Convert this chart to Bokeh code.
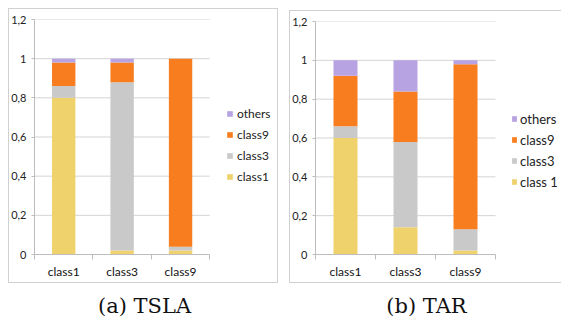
from bokeh.plotting import figure
from bokeh.models import (Range1d, FixedTicker, CustomJSTickFormatter, Legend,
                          LegendItem, ColumnDataSource)
from bokeh.core.properties import value
from bokeh.layouts import row, column
from bokeh.embed import file_html
from bokeh.resources import INLINE

# ---------------- data ----------------
categories = ["class1", "class3", "class9"]
stack_keys = ["class1", "class3", "class9", "others"]

tsla_class1 = [0.80, 0.02, 0.02]
tsla_class3 = [0.06, 0.86, 0.02]
tsla_class9 = [0.12, 0.10, 0.96]
tsla_others = [0.02, 0.02, 0.00]

tar_class1 = [0.60, 0.14, 0.02]
tar_class3 = [0.06, 0.44, 0.11]
tar_class9 = [0.26, 0.26, 0.85]
tar_others = [0.08, 0.16, 0.02]

legend_labels_a = ["class1", "class3", "class9", "others"]
legend_labels_b = ["class 1", "class3", "class9", "others"]

y_ticks = [0, 0.2, 0.4, 0.6, 0.8, 1.0, 1.2]
captions = ["(a) TSLA", "(b) TAR"]

colors = ["#EFD26B", "#C9C9C9", "#F77D1F", "#B7A2E2"]
FONT = "Lato"


def make_panel(vals, labels, width, height, borders, plot_w, legend_loc, legend_fs,
               glyph_w, standoff, shadow):
    n = len(categories)
    xs = [i + 1 for i in range(n)]
    frame_w = width - borders[1] - borders[3]
    x_end = 0.5 + n * frame_w / plot_w
    data = dict(x=xs)
    for k, v in zip(stack_keys, vals):
        data[k] = v
    src = ColumnDataSource(data)
    p = figure(width=width, height=height, output_backend="svg", toolbar_location=None,
               title_location=None,
               x_range=Range1d(0.5, x_end), y_range=Range1d(0, 1.2),
               min_border_top=borders[0], min_border_right=borders[1],
               min_border_bottom=borders[2], min_border_left=borders[3])
    p.outline_line_color = None
    p.background_fill_color = "white"
    p.border_fill_alpha = 0
    p.grid.grid_line_color = None

    # horizontal grid lines limited to the category area
    gy = y_ticks[1:]
    p.segment(x0=[0.5] * len(gy), x1=[n + 0.5] * len(gy), y0=gy, y1=gy,
              line_color="#D4D4D4", line_width=1, level="underlay")

    rs = p.vbar_stack(stack_keys, x="x", width=0.4, source=src, color=colors, line_color=None)

    yax = p.yaxis[0]
    yax.ticker = FixedTicker(ticks=y_ticks)
    yax.formatter = CustomJSTickFormatter(
        code="return (Math.round(tick*10)/10).toString().replace('.', ',');")
    yax.axis_line_color = "#BDBDBD"
    yax.major_tick_line_color = "#BDBDBD"
    yax.major_tick_out = 3
    yax.major_tick_in = 0
    yax.minor_tick_line_color = None
    yax.minor_tick_out = 0
    yax.major_label_standoff = 5
    yax.major_label_text_font = FONT
    yax.major_label_text_font_size = "11px"
    yax.major_label_text_color = "#222222"

    xax = p.xaxis[0]
    xax.bounds = (0.5, n + 0.5)
    xax.ticker = FixedTicker(ticks=xs, minor_ticks=[x - 0.5 for x in xs] + [xs[-1] + 0.5])
    xax.formatter = CustomJSTickFormatter(args=dict(cats=categories),
                                          code="return cats[Math.round(tick)-1];")
    xax.axis_line_color = "#BDBDBD"
    xax.major_tick_line_color = None
    xax.major_tick_out = 0
    xax.major_tick_in = 0
    xax.minor_tick_line_color = "#BDBDBD"
    xax.minor_tick_out = 5
    xax.minor_tick_in = 0
    xax.major_label_standoff = 4
    xax.major_label_text_font = FONT
    xax.major_label_text_font_size = "12px"
    xax.major_label_text_color = "#111111"

    items = [LegendItem(label=lab, renderers=[r]) for lab, r in zip(labels, rs)]
    items.reverse()
    leg = Legend(items=items, location=legend_loc, orientation="vertical",
                 glyph_width=glyph_w, glyph_height=7, label_height=21, spacing=0,
                 label_standoff=standoff, padding=0, margin=0,
                 border_line_color=None, background_fill_alpha=0,
                 label_text_font=FONT, label_text_font_size=legend_fs,
                 label_text_color="#222222")
    p.add_layout(leg, "center")
    p.styles = {"box-shadow": shadow}
    return p


p1 = make_panel([tsla_class1, tsla_class3, tsla_class9, tsla_others], legend_labels_a,
                270, 275, (7, 2, 26, 25), 176, (192, 67), "12px", 7, 4,
                "inset 0 0 0 1px #D0D0D0")
p1.margin = (8, 0, 0, 8)

p2 = make_panel([tar_class1, tar_class3, tar_class9, tar_others], legend_labels_b,
                272, 273, (11, 2, 29, 26), 180, (196, 62), "13px", 6, 3,
                "inset 1px 1px 0 #D0D0D0, inset 0 -1px 0 #D0D0D0")
p2.margin = (10, 0, 0, 11)

# caption strip (pixel-like coordinates)
cap = figure(width=561, height=33, output_backend="svg", toolbar_location=None,
             title_location=None, x_axis_location=None, y_axis_location=None,
             x_range=Range1d(0, 561), y_range=Range1d(0, 33), min_border=0)
cap.grid.visible = False
cap.outline_line_color = None
cap.text(x=[144, 426], y=[11, 11], text=captions, text_align="center",
         text_baseline="middle", text_font=value("DejaVu Serif"),
         text_font_size="21px", text_color="#111111")

layout = column(row(p1, p2, spacing=0), cap, spacing=0)

open("out.html", "w").write(file_html(layout, INLINE))
